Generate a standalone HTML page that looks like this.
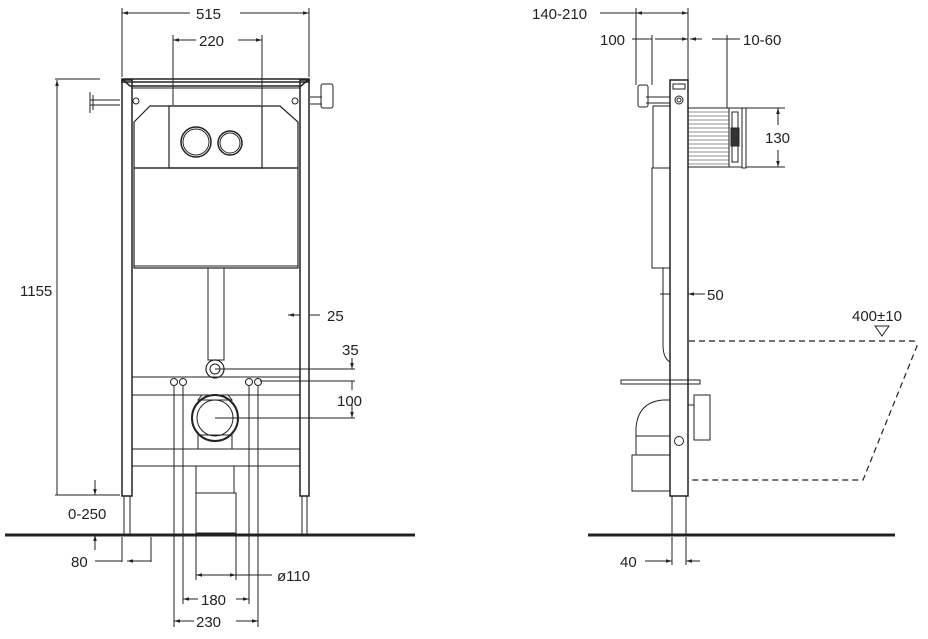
<!DOCTYPE html>
<html><head><meta charset="utf-8"><style>
html,body{margin:0;padding:0;background:#fff;width:928px;height:639px;overflow:hidden}
svg{display:block}
text{font-family:"Liberation Sans",sans-serif;font-size:15px;fill:#222}
</style></head><body>
<svg width="928" height="639" viewBox="0 0 928 639" xmlns="http://www.w3.org/2000/svg">
<defs>
<marker id="a" viewBox="0 0 10 10" refX="10" refY="5" markerWidth="10" markerHeight="6" markerUnits="userSpaceOnUse" orient="auto-start-reverse"><path d="M0,2 L10,5 L0,8z" fill="#222"/></marker>
</defs>
<g fill="none" stroke="#222" stroke-width="1">
<!-- FRONT VIEW -->
<rect x="122" y="79" width="187" height="3" fill="#fff" stroke-width="1.5"/>
<path d="M122,79 L130,86 L301,86 L309,79" stroke-width="1.5"/>
<rect x="122" y="80" width="10" height="416" stroke-width="1.5"/>
<rect x="300" y="80" width="9" height="416" stroke-width="1.5"/>
<line x1="132" y1="88" x2="300" y2="88"/>
<path d="M134,122 L150,106 L280,106 L298,122 L298,168 L134,168 Z" stroke-width="1.2"/>
<rect x="169" y="106" width="93" height="62" stroke-width="1.2"/>
<circle cx="196" cy="142" r="15" stroke-width="1.5"/><circle cx="196" cy="142" r="13"/>
<circle cx="230" cy="143" r="12" stroke-width="1.5"/><circle cx="230" cy="143" r="10"/>
<rect x="134" y="168" width="164" height="100" stroke-width="1.2"/>
<line x1="134" y1="266" x2="298" y2="266"/>
<path d="M90,100 L120,100 M90,105 L120,105 M90,92 L90,113 M93,95 L93,110"/>
<path d="M310,97 L322,97 M310,104 L322,104"/><rect x="321" y="84" width="12" height="24" rx="2"/>
<circle cx="136" cy="101" r="3"/><circle cx="295" cy="101" r="3"/>
<rect x="208" y="268" width="16" height="92"/>
<circle cx="215" cy="369" r="9" stroke-width="1.2"/><circle cx="215" cy="369" r="5"/>
<rect x="132" y="377" width="168" height="18"/>
<rect x="132" y="449" width="168" height="17"/>
<circle cx="174" cy="382" r="3.5"/><circle cx="183" cy="382" r="3.5"/>
<circle cx="249" cy="382" r="3.5"/><circle cx="258" cy="382" r="3.5"/>
<path d="M202,395 L228,395 L232,400 L198,400Z"/>
<circle cx="215" cy="418" r="23" stroke-width="2"/><circle cx="215" cy="418" r="18"/>
<rect x="198" y="435" width="34" height="14"/>
<rect x="196" y="466" width="38" height="27"/><rect x="196" y="493" width="40" height="40"/>
<path d="M124,496 L124,535 M130,496 L130,535 M302,496 L302,535 M307,496 L307,535"/>
<line x1="5" y1="535" x2="415" y2="535" stroke-width="3"/>
<path d="M122,77 L122,8 M309,77 L309,8"/>
<line x1="122" y1="13" x2="190" y2="13" marker-start="url(#a)"/><line x1="240" y1="13" x2="309" y2="13" marker-end="url(#a)"/>
<path d="M173,105 L173,35 M262,105 L262,35"/>
<line x1="173" y1="40" x2="196" y2="40" marker-start="url(#a)"/><line x1="238" y1="40" x2="262" y2="40" marker-end="url(#a)"/>
<line x1="55" y1="79" x2="100" y2="79"/>
<line x1="57" y1="495" x2="57" y2="80" marker-end="url(#a)"/>
<line x1="55" y1="495" x2="120" y2="495"/>
<line x1="95" y1="480" x2="95" y2="495" marker-end="url(#a)"/>
<line x1="95" y1="550" x2="95" y2="535" marker-end="url(#a)"/>
<line x1="310" y1="315" x2="320" y2="315"/><line x1="300" y1="315" x2="288" y2="315" marker-end="url(#a)"/>
<line x1="215" y1="369" x2="355" y2="369"/><line x1="260" y1="381" x2="355" y2="381"/><line x1="215" y1="418" x2="355" y2="418"/>
<line x1="352" y1="358" x2="352" y2="369" marker-end="url(#a)"/>
<line x1="352" y1="381" x2="352" y2="390"/>
<line x1="352" y1="405" x2="352" y2="418" marker-end="url(#a)"/>
<path d="M122,537 L122,562 M151,537 L151,562"/>
<line x1="95" y1="561" x2="122" y2="561"/><line x1="127" y1="561" x2="151" y2="561" marker-start="url(#a)"/>
<path d="M174,386 L174,627 M183,386 L183,604 M249,386 L249,604 M258,386 L258,627"/>
<path d="M196,493 L196,580 M236,493 L236,580"/>
<line x1="196" y1="575" x2="236" y2="575" marker-start="url(#a)" marker-end="url(#a)"/><line x1="236" y1="575" x2="272" y2="575"/>
<line x1="183" y1="599" x2="198" y2="599" marker-start="url(#a)"/><line x1="236" y1="599" x2="249" y2="599" marker-end="url(#a)"/>
<line x1="174" y1="621" x2="194" y2="621" marker-start="url(#a)"/><line x1="236" y1="621" x2="258" y2="621" marker-end="url(#a)"/>

<!-- SIDE VIEW -->
<rect x="670" y="80" width="18" height="416" stroke-width="1.5"/>
<rect x="673" y="84" width="12" height="5"/><circle cx="679" cy="100" r="4"/><circle cx="679" cy="100" r="2"/>
<rect x="638" y="85" width="10" height="22" rx="2"/><path d="M646,97 L670,97 M646,103 L670,103"/>
<rect x="653" y="106" width="17" height="62"/><rect x="652" y="168" width="18" height="100"/>
<path d="M663,268 L663,345 Q663,358 670,362"/>
<rect x="621" y="380" width="79" height="4"/>
<path d="M670,400 L663,400 Q638,402 636,428 L636,455 L670,455"/>
<line x1="636" y1="436" x2="670" y2="436"/>
<rect x="632" y="455" width="38" height="36"/>
<circle cx="679" cy="441" r="4.5"/>
<rect x="694" y="395" width="16" height="45"/><line x1="688" y1="405" x2="694" y2="405"/>
<path d="M672,496 L672,535 M686,496 L686,535"/>
<rect x="688" y="108" width="41" height="59"/>
<g stroke-width="0.6"><path d="M688,112H729M688,116H729M688,120H729M688,124H729M688,128H729M688,132H729M688,136H729M688,140H729M688,144H729M688,148H729M688,152H729M688,156H729M688,160H729M688,164H729"/></g>
<rect x="729" y="108" width="13" height="59" fill="#fff"/><rect x="742" y="108" width="4" height="60"/>
<rect x="732" y="112" width="6" height="50"/>
<rect x="731" y="128" width="8" height="18" fill="#333"/>
<line x1="746" y1="108" x2="785" y2="108"/><line x1="746" y1="167" x2="785" y2="167"/>
<line x1="778" y1="125" x2="778" y2="108" marker-end="url(#a)"/><line x1="778" y1="150" x2="778" y2="167" marker-end="url(#a)"/>
<path d="M689,341 L914,341 L917,346 L863,480 L689,480" stroke-dasharray="6,4" stroke-width="1.2"/>
<path d="M875,326 L889,326 L882,336Z"/>
<line x1="588" y1="535" x2="895" y2="535" stroke-width="3"/>
<path d="M636,85 L636,8 M652,85 L652,35 M688,80 L688,8 M727,108 L727,35"/>
<line x1="600" y1="13" x2="688" y2="13" marker-end="url(#a)"/><line x1="636" y1="13" x2="650" y2="13" marker-start="url(#a)"/>
<line x1="632" y1="39" x2="652" y2="39"/><line x1="655" y1="39" x2="688" y2="39" marker-end="url(#a)"/>
<line x1="690" y1="39" x2="702" y2="39" marker-start="url(#a)"/><line x1="712" y1="39" x2="740" y2="39"/>
<line x1="660" y1="294" x2="670" y2="294"/><line x1="705" y1="294" x2="688" y2="294" marker-end="url(#a)"/>
<path d="M672,537 L672,565 M686,537 L686,565"/>
<line x1="645" y1="561" x2="672" y2="561" marker-end="url(#a)"/><line x1="700" y1="561" x2="686" y2="561" marker-end="url(#a)"/>
</g>
<g>
<text x="196" y="19">515</text>
<text x="199" y="46">220</text>
<text x="20" y="296">1155</text>
<text x="327" y="321">25</text>
<text x="342" y="355">35</text>
<text x="337" y="406">100</text>
<text x="68" y="519">0-250</text>
<text x="71" y="567">80</text>
<text x="277" y="581">ø110</text>
<text x="201" y="605">180</text>
<text x="196" y="627">230</text>
<text x="532" y="19">140-210</text>
<text x="600" y="45">100</text>
<text x="743" y="45">10-60</text>
<text x="765" y="143">130</text>
<text x="707" y="300">50</text>
<text x="852" y="321">400±10</text>
<text x="620" y="567">40</text>
</g>
</svg>
</body></html>
